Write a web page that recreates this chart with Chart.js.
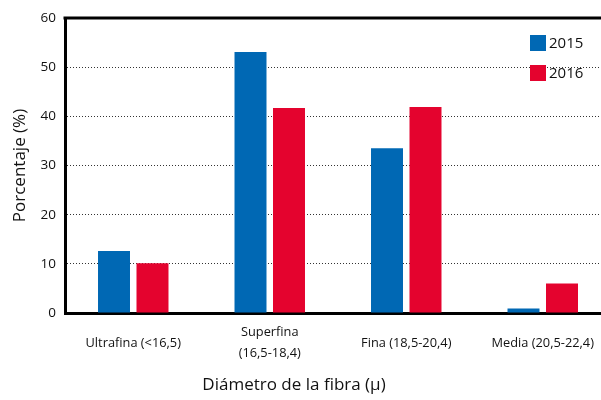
<!DOCTYPE html>
<html><head><meta charset="utf-8">
<script src="https://cdn.jsdelivr.net/npm/chart.js@4.4.1/dist/chart.umd.min.js"></script>
<style>
html,body{margin:0;padding:0;background:#fff;overflow:hidden;width:601px;height:400px;}
#wrap{position:absolute;left:0;top:0;width:612px;height:400px;}
</style></head>
<body><div id="wrap"><canvas id="c" width="612" height="400"></canvas></div>
<script>
const categories = ["Ultrafina (<16,5)", ["Superfina", "(16,5-18,4)"], "Fina (18,5-20,4)", "Media (20,5-22,4)"];
const seriesNames = ["2015", "2016"];
const values2015 = [12.6, 53.1, 33.5, 0.9];
const values2016 = [10.1, 41.7, 41.9, 6.0];
const yTicks = [0, 10, 20, 30, 40, 50, 60];
const xTitle = 'Diámetro de la fibra (µ)';
const yTitle = 'Porcentaje (%)';
const colors = ["#0068B4", "#E4032E"];
const FONT = "Open Sans";

const frame = {
  id: 'frame',
  afterDraw(chart) {
    const {ctx, chartArea} = chart;
    ctx.save();
    ctx.strokeStyle = '#000';
    ctx.lineWidth = 3;
    ctx.beginPath();
    ctx.moveTo(chartArea.left - 1.5, chartArea.top);
    ctx.lineTo(chart.width, chartArea.top);
    ctx.stroke();
    // x title
    ctx.fillStyle = '#111';
    ctx.font = '17px "' + FONT + '"';
    ctx.textAlign = 'center';
    ctx.textBaseline = 'middle';
    ctx.fillText(xTitle, 294, 385);
    // legend
    const lx = 530, ly = [35, 65];
    chart.data.datasets.forEach((ds, i) => {
      ctx.fillStyle = ds.backgroundColor;
      ctx.fillRect(lx, ly[i], 16, 16);
      ctx.fillStyle = '#111';
      ctx.font = '15px "' + FONT + '"';
      ctx.textBaseline = 'middle';
      ctx.textAlign = 'left';
      ctx.fillText(ds.label, lx + 19, ly[i] + 8.5);
    });
    ctx.restore();
  }
};

new Chart(document.getElementById('c'), {
  type: 'bar',
  data: {
    labels: categories,
    datasets: [
      {label: seriesNames[0], data: values2015, backgroundColor: colors[0], categoryPercentage: 0.564, barPercentage: 0.831},
      {label: seriesNames[1], data: values2016, backgroundColor: colors[1], categoryPercentage: 0.564, barPercentage: 0.831}
    ]
  },
  options: {
    responsive: false,
    animation: false,
    layout: {padding: {left: 0, right: 1, top: 18, bottom: 0}},
    plugins: {legend: {display: false}, tooltip: {enabled: false}},
    scales: {
      x: {
        grid: {display: false},
        border: {display: true, color: '#000', width: 3},
        ticks: {color: '#111', font: {family: FONT, size: 12.8, lineHeight: 1.7}, padding: 11, maxRotation: 0, autoSkip: false, crossAlign: 'center'},
        afterFit(s) { s.height = 87; }
      },
      y: {
        min: 0, max: 60,
        afterBuildTicks(s) { s.ticks = yTicks.map(v => ({value: v})); },
        grid: {
          color: ctx => (ctx.tick && (ctx.tick.value === 0 || ctx.tick.value === 60)) ? 'rgba(0,0,0,0)' : '#333',
          lineWidth: 1, drawTicks: false
        },
        border: {display: true, color: '#000', width: 3, dash: [1, 2]},
        ticks: {color: '#111', font: {family: FONT, size: 13.5}, padding: 9},
        title: {display: true, text: yTitle, color: '#111', font: {family: FONT, size: 17}, padding: {top: 10, bottom: 10}},
        afterFit(s) { s.width = 65; }
      }
    }
  },
  plugins: [frame]
});
</script></body></html>
